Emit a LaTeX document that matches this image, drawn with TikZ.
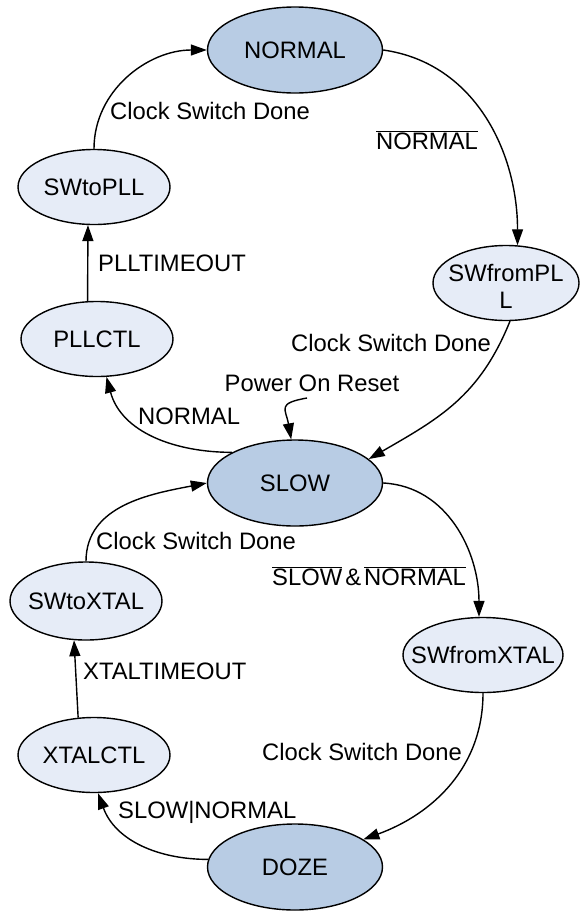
\documentclass[tikz,border=0pt]{standalone}
\usepackage{fontspec}
\setmainfont{Liberation Sans}
\usetikzlibrary{arrows.meta,shapes.geometric}
\definecolor{bigfill}{RGB}{184,204,228}
\definecolor{smallfill}{RGB}{230,236,247}
\newcommand\ovl[1]{$\overline{\hbox{#1}}$}
\newcommand\zw[1]{\makebox[0pt]{#1}}
\begin{document}
\begin{tikzpicture}[x=1pt,y=1pt,
  font=\fontsize{23.8pt}{27pt}\selectfont,
  stnode/.style={ellipse, draw=black, line width=1.4pt, inner sep=0pt, minimum height=75pt},
  bigstate/.style={stnode, fill=bigfill, minimum width=175pt, minimum height=86pt},
  smallstate/.style={stnode, fill=smallfill, minimum width=152pt},
  trans/.style={-{Triangle[length=16pt,width=11pt]}, line width=1.4pt},
  lbl/.style={inner sep=0pt, anchor=base west}]
\useasboundingbox (0,0) rectangle (580,-911);

% states
\node[bigstate] (normal) at (295,-50) {\zw{NORMAL}};
\node[smallstate] (swtopll) at (94,-187) {\zw{SWtoPLL}};
\node[smallstate] (pllctl) at (97,-339) {\zw{PLLCTL}};
\node[smallstate, minimum width=146pt] (swfrompll) at (506,-283)
  {\zw{\raisebox{-17pt}[17pt][0pt]{\begin{tabular}[b]{@{}c@{}}SWfromPL\\L\end{tabular}}}};
\node[bigstate] (slow) at (295,-483) {\zw{SLOW}};
\node[smallstate, minimum height=78pt] (swtoxtal) at (86,-601) {\zw{SWtoXTAL}};
\node[smallstate, minimum width=160pt] (swfromxtal) at (483,-655) {\zw{SWfromXTAL}};
\node[smallstate] (xtalctl) at (94,-755) {\zw{XTALCTL}};
\node[bigstate] (doze) at (295,-867) {\zw{DOZE}};

% labels
\node[lbl] (l1) at (110,-119.5) {Clock Switch Done};
\node[lbl, anchor=base] (l2) at (427,-149.5) {\ovl{NORMAL}};
\node[lbl] (l3) at (98,-271.5) {PLLTIMEOUT};
\node[lbl] (l4) at (291,-351.5) {Clock Switch Done};
\node[lbl, anchor=base] (l5) at (312,-391.5) {Power On Reset};
\node[lbl] (l6) at (138,-424.5) {NORMAL};
\node[lbl] (l7) at (96,-549.5) {Clock Switch Done};
\node[lbl] (l8) at (272,-585.5) {\ovl{SLOW}\hspace{3pt}\&\hspace{3pt}\ovl{NORMAL}};
\node[lbl] (l9) at (83,-679.5) {XTALTIMEOUT};
\node[lbl] (l10) at (262,-760.5) {Clock Switch Done};
\node[lbl] (l11) at (118,-818.5) {SLOW|NORMAL};

% transitions
\draw[trans] (swtopll.north) to[out=90,in=180] (normal.west);
\draw[trans] (normal.east) to[out=-8,in=90] (swfrompll.73);
\draw[trans] (pllctl.104) -- (swtopll.261);
\draw[trans] (slow.154) to[out=180,in=-75] (pllctl.284);
\draw[trans] (swfrompll.276) to[out=-112,in=30,looseness=1.05] (slow.18);
\draw[trans] (slow.east) to[out=-3,in=90] (swfromxtal.96);
\draw[trans] (swtoxtal.north) to[out=90,in=-169] (slow.west);
\draw[trans] (xtalctl.113) -- (swtoxtal.253);
\draw[trans] (swfromxtal.south) to[out=-90,in=20] (doze.22);
\draw[trans] (doze.175) to[out=180,in=-70] (xtalctl.-84);
\coordinate (por) at (307,-398);
\draw[trans] (por) to[out=190,in=100,looseness=1.8] (slow.95);
\end{tikzpicture}
\end{document}
